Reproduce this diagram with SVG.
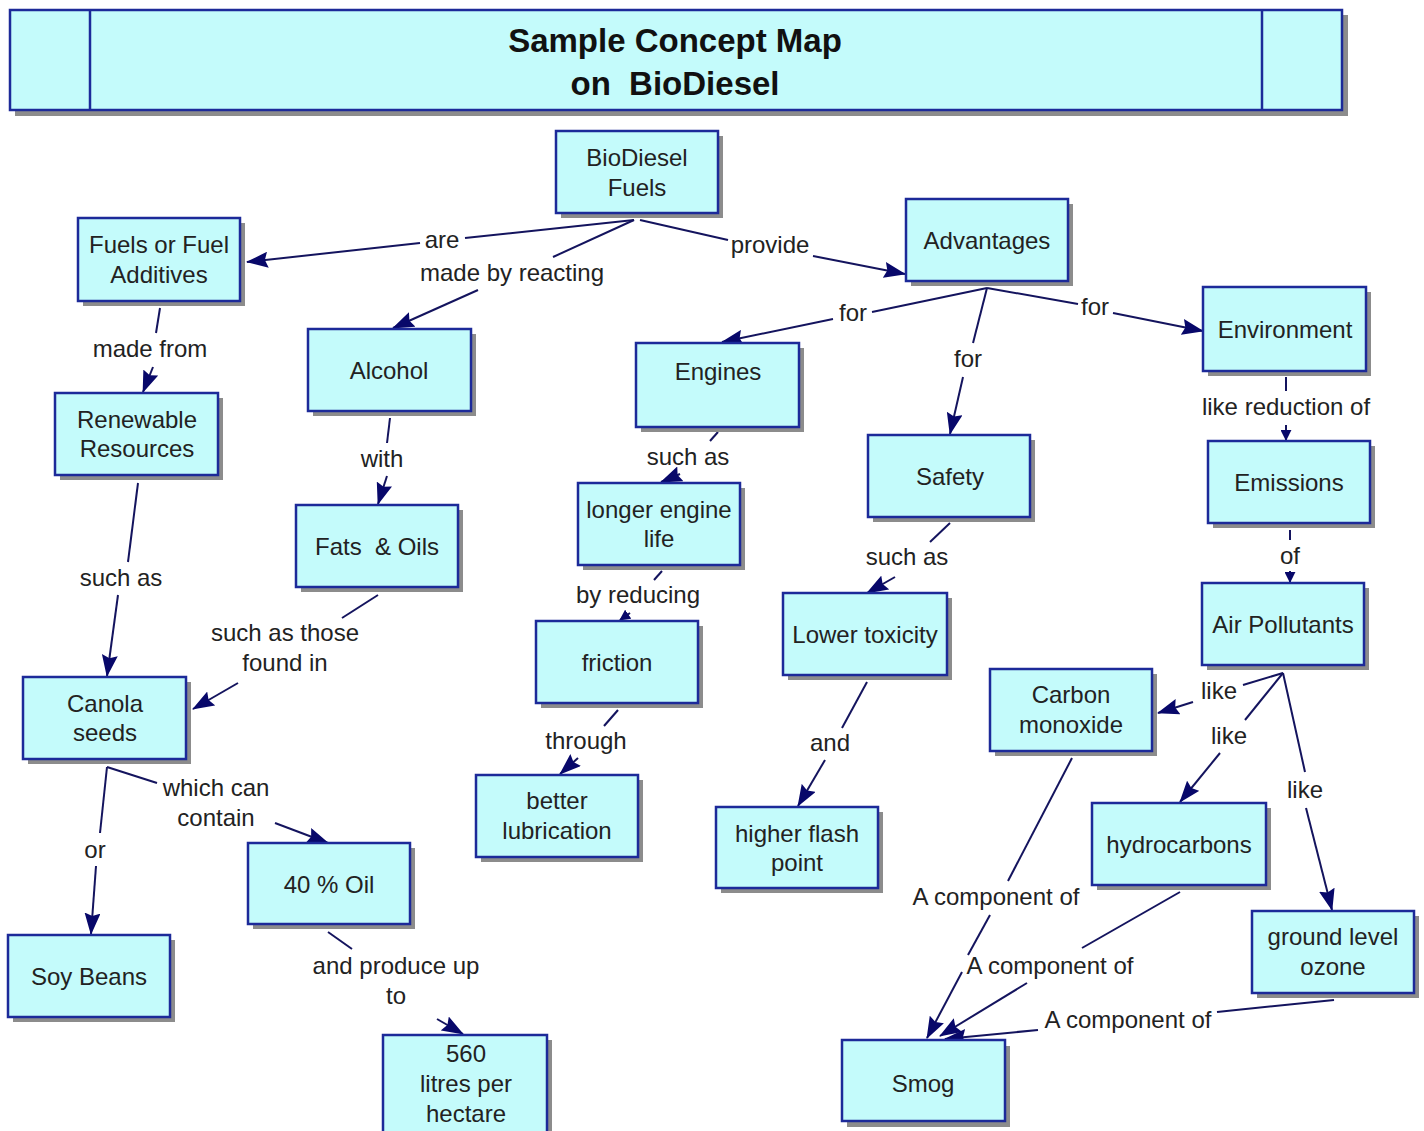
<svg xmlns="http://www.w3.org/2000/svg" width="1424" height="1131" viewBox="0 0 1424 1131">
<style>
.sh{fill:#8c8c8c}
.bx{fill:#c4fbfb;stroke:#1c2a99;stroke-width:2.5}
.t{font-family:"Liberation Sans",Arial,sans-serif;font-size:24px;fill:#222;text-anchor:middle}
.tt{font-family:"Liberation Sans",Arial,sans-serif;font-size:33px;font-weight:bold;fill:#111;text-anchor:middle}
.c{stroke:#14145e;stroke-width:2;fill:none}
.a{marker-end:url(#ah)}
.s{marker-end:url(#as)}
</style>
<defs>
<marker id="ah" viewBox="0 0 22 16" refX="21" refY="8" markerWidth="22" markerHeight="16" markerUnits="userSpaceOnUse" orient="auto">
<path d="M0,0 L22,8 L0,16 L3,8 z" fill="#08086a"/>
</marker>
<marker id="as" viewBox="0 0 12 12" refX="11" refY="6" markerWidth="11" markerHeight="11" markerUnits="userSpaceOnUse" orient="auto">
<path d="M0,0 L12,6 L0,12 z" fill="#08086a"/>
</marker>
</defs>
<rect width="1424" height="1131" fill="#ffffff"/>

<g id="title">
<rect class="sh" x="15" y="15" width="1333" height="101"/>
<rect class="bx" x="10" y="10" width="1332" height="100"/>
<line x1="90" y1="10" x2="90" y2="110" stroke="#1c2a99" stroke-width="2.5"/>
<line x1="1262" y1="10" x2="1262" y2="110" stroke="#1c2a99" stroke-width="2.5"/>
<text class="tt" x="675" y="52">Sample Concept Map</text>
<text class="tt" x="675" y="95" xml:space="preserve">on  BioDiesel</text>
</g>

<g id="connectors">
<polyline class="c" points="634,220 465,238"/>
<polyline class="c a" points="420,243 247,262"/>
<polyline class="c" points="634,220 553,257"/>
<polyline class="c a" points="478,290 393,328"/>
<polyline class="c" points="640,220 728,240"/>
<polyline class="c a" points="813,256 905,274"/>
<polyline class="c" points="160,308 156,333"/>
<polyline class="c a" points="153,367 143,392"/>
<polyline class="c" points="138,483 128,562"/>
<polyline class="c a" points="118,595 107,676"/>
<polyline class="c" points="390,418 387,443"/>
<polyline class="c a" points="387,476 378,504"/>
<polyline class="c" points="378,595 342,618"/>
<polyline class="c a" points="238,683 193,709"/>
<polyline class="c" points="107,767 157,783"/>
<polyline class="c a" points="275,823 328,843"/>
<polyline class="c" points="107,767 100,833"/>
<polyline class="c a" points="96,866 91,934"/>
<polyline class="c" points="328,932 352,949"/>
<polyline class="c a" points="437,1019 463,1034"/>
<polyline class="c" points="987,288 872,312"/>
<polyline class="c a" points="833,319 722,342"/>
<polyline class="c" points="987,288 973,343"/>
<polyline class="c a" points="963,377 950,434"/>
<polyline class="c" points="987,288 1078,304"/>
<polyline class="c a" points="1113,313 1203,331"/>
<polyline class="c" points="718,432 710,441"/>
<polyline class="c a" points="680,474 661,482"/>
<polyline class="c" points="662,571 654,580"/>
<polyline class="c s" points="630,613 620,620"/>
<polyline class="c" points="618,710 604,726"/>
<polyline class="c a" points="578,758 560,774"/>
<polyline class="c" points="950,523 930,542"/>
<polyline class="c a" points="895,577 867,593"/>
<polyline class="c" points="867,682 842,728"/>
<polyline class="c a" points="825,760 798,806"/>
<polyline class="c" points="1286,377 1286,391"/>
<polyline class="c s" points="1286,425 1286,440"/>
<polyline class="c" points="1290,530 1290,540"/>
<polyline class="c s" points="1290,571 1290,582"/>
<polyline class="c" points="1283,673 1243,685"/>
<polyline class="c a" points="1193,702 1158,713"/>
<polyline class="c" points="1283,673 1245,720"/>
<polyline class="c a" points="1220,753 1180,802"/>
<polyline class="c" points="1283,673 1305,772"/>
<polyline class="c a" points="1306,808 1332,910"/>
<polyline class="c" points="1072,758 1008,881"/>
<polyline class="c" points="990,915 968,955"/>
<polyline class="c a" points="962,972 927,1038"/>
<polyline class="c" points="1180,892 1082,948"/>
<polyline class="c a" points="1027,983 940,1036"/>
<polyline class="c" points="1334,1000 1217,1012"/>
<polyline class="c a" points="1038,1030 945,1039"/>
</g>

<g id="labels">
<text class="t" x="442" y="248">are</text>
<text class="t" x="512" y="281">made by reacting</text>
<text class="t" x="770" y="253">provide</text>
<text class="t" x="150" y="357">made from</text>
<text class="t" x="121" y="586">such as</text>
<text class="t" x="382" y="467">with</text>
<text class="t" x="285" y="641">such as those</text>
<text class="t" x="285" y="671">found in</text>
<text class="t" x="216" y="796">which can</text>
<text class="t" x="216" y="826">contain</text>
<text class="t" x="95" y="858">or</text>
<text class="t" x="396" y="974">and produce up</text>
<text class="t" x="396" y="1004">to</text>
<text class="t" x="853" y="321">for</text>
<text class="t" x="968" y="367">for</text>
<text class="t" x="1095" y="315">for</text>
<text class="t" x="688" y="465">such as</text>
<text class="t" x="638" y="603">by reducing</text>
<text class="t" x="586" y="749">through</text>
<text class="t" x="907" y="565">such as</text>
<text class="t" x="830" y="751">and</text>
<text class="t" x="1286" y="415">like reduction of</text>
<text class="t" x="1290" y="564">of</text>
<text class="t" x="1219" y="699">like</text>
<text class="t" x="1229" y="744">like</text>
<text class="t" x="1305" y="798">like</text>
<text class="t" x="996" y="905">A component of</text>
<text class="t" x="1050" y="974">A component of</text>
<text class="t" x="1128" y="1028">A component of</text>
</g>

<g id="n-biodiesel"><rect class="sh" x="561" y="136" width="162" height="82"/><rect class="bx" x="556" y="131" width="162" height="82"/><text class="t" x="637" y="166">BioDiesel</text><text class="t" x="637" y="196">Fuels</text></g>
<g id="n-fuels"><rect class="sh" x="83" y="223" width="162" height="83"/><rect class="bx" x="78" y="218" width="162" height="83"/><text class="t" x="159" y="253">Fuels or Fuel</text><text class="t" x="159" y="283">Additives</text></g>
<g id="n-advantages"><rect class="sh" x="911" y="204" width="162" height="82"/><rect class="bx" x="906" y="199" width="162" height="82"/><text class="t" x="987" y="249">Advantages</text></g>
<g id="n-environment"><rect class="sh" x="1208" y="292" width="163" height="84"/><rect class="bx" x="1203" y="287" width="163" height="84"/><text class="t" x="1285" y="338">Environment</text></g>
<g id="n-alcohol"><rect class="sh" x="313" y="334" width="163" height="82"/><rect class="bx" x="308" y="329" width="163" height="82"/><text class="t" x="389" y="379">Alcohol</text></g>
<g id="n-engines"><rect class="sh" x="641" y="348" width="163" height="84"/><rect class="bx" x="636" y="343" width="163" height="84"/><text class="t" x="718" y="380">Engines</text></g>
<g id="n-renewable"><rect class="sh" x="60" y="398" width="163" height="82"/><rect class="bx" x="55" y="393" width="163" height="82"/><text class="t" x="137" y="428">Renewable</text><text class="t" x="137" y="457">Resources</text></g>
<g id="n-safety"><rect class="sh" x="873" y="440" width="162" height="82"/><rect class="bx" x="868" y="435" width="162" height="82"/><text class="t" x="950" y="485">Safety</text></g>
<g id="n-emissions"><rect class="sh" x="1213" y="446" width="162" height="82"/><rect class="bx" x="1208" y="441" width="162" height="82"/><text class="t" x="1289" y="491">Emissions</text></g>
<g id="n-fats"><rect class="sh" x="301" y="510" width="162" height="82"/><rect class="bx" x="296" y="505" width="162" height="82"/><text class="t" x="377" y="555" xml:space="preserve">Fats  &amp; Oils</text></g>
<g id="n-longer"><rect class="sh" x="583" y="488" width="162" height="82"/><rect class="bx" x="578" y="483" width="162" height="82"/><text class="t" x="659" y="518">longer engine</text><text class="t" x="659" y="547">life</text></g>
<g id="n-lowertox"><rect class="sh" x="788" y="598" width="164" height="82"/><rect class="bx" x="783" y="593" width="164" height="82"/><text class="t" x="865" y="643">Lower toxicity</text></g>
<g id="n-airpoll"><rect class="sh" x="1207" y="588" width="162" height="82"/><rect class="bx" x="1202" y="583" width="162" height="82"/><text class="t" x="1283" y="633">Air Pollutants</text></g>
<g id="n-friction"><rect class="sh" x="541" y="626" width="162" height="82"/><rect class="bx" x="536" y="621" width="162" height="82"/><text class="t" x="617" y="671">friction</text></g>
<g id="n-carbon"><rect class="sh" x="995" y="674" width="162" height="82"/><rect class="bx" x="990" y="669" width="162" height="82"/><text class="t" x="1071" y="703">Carbon</text><text class="t" x="1071" y="733">monoxide</text></g>
<g id="n-canola"><rect class="sh" x="28" y="682" width="163" height="82"/><rect class="bx" x="23" y="677" width="163" height="82"/><text class="t" x="105" y="712">Canola</text><text class="t" x="105" y="741">seeds</text></g>
<g id="n-lubrication"><rect class="sh" x="481" y="780" width="162" height="82"/><rect class="bx" x="476" y="775" width="162" height="82"/><text class="t" x="557" y="809">better</text><text class="t" x="557" y="839">lubrication</text></g>
<g id="n-flash"><rect class="sh" x="721" y="812" width="162" height="81"/><rect class="bx" x="716" y="807" width="162" height="81"/><text class="t" x="797" y="842">higher flash</text><text class="t" x="797" y="871">point</text></g>
<g id="n-hydro"><rect class="sh" x="1097" y="808" width="174" height="82"/><rect class="bx" x="1092" y="803" width="174" height="82"/><text class="t" x="1179" y="853">hydrocarbons</text></g>
<g id="n-oil"><rect class="sh" x="253" y="848" width="162" height="81"/><rect class="bx" x="248" y="843" width="162" height="81"/><text class="t" x="329" y="893">40 % Oil</text></g>
<g id="n-ozone"><rect class="sh" x="1257" y="916" width="162" height="82"/><rect class="bx" x="1252" y="911" width="162" height="82"/><text class="t" x="1333" y="945">ground level</text><text class="t" x="1333" y="975">ozone</text></g>
<g id="n-soy"><rect class="sh" x="13" y="940" width="162" height="82"/><rect class="bx" x="8" y="935" width="162" height="82"/><text class="t" x="89" y="985">Soy Beans</text></g>
<g id="n-560"><rect class="sh" x="388" y="1040" width="164" height="100"/><rect class="bx" x="383" y="1035" width="164" height="100"/><text class="t" x="466" y="1062">560</text><text class="t" x="466" y="1092">litres per</text><text class="t" x="466" y="1122">hectare</text></g>
<g id="n-smog"><rect class="sh" x="847" y="1046" width="163" height="81"/><rect class="bx" x="842" y="1040" width="163" height="81"/><text class="t" x="923" y="1092">Smog</text></g>
</svg>
